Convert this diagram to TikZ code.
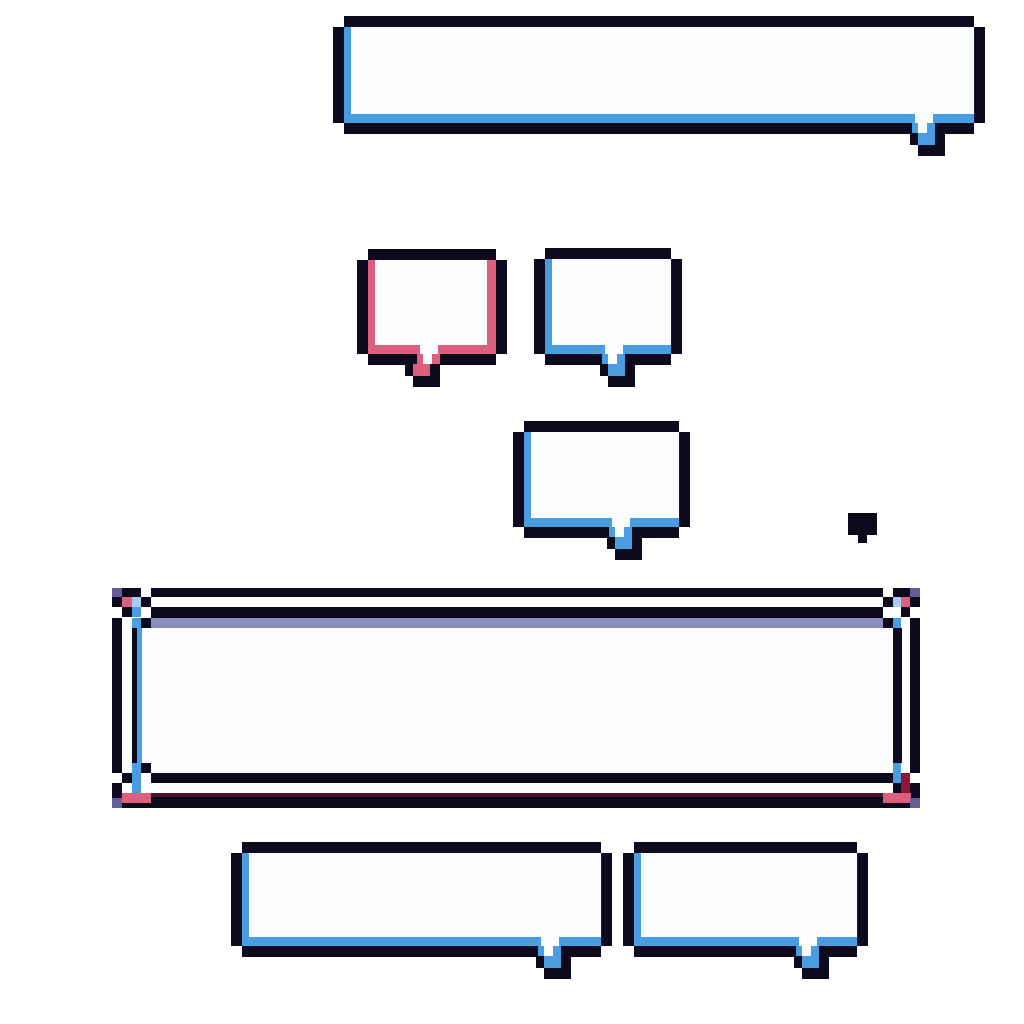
\documentclass[tikz,border=0pt]{standalone}
\usepackage{tikz}

\definecolor{darkink}{HTML}{0C0A1C}
\definecolor{blueedge}{HTML}{4A9DE0}
\definecolor{pinkedge}{HTML}{DC5F80}
\definecolor{lavender}{HTML}{8A8DC0}
\definecolor{purplecell}{HTML}{675C98}
\definecolor{lightcell}{HTML}{A8CBEE}
\definecolor{redcell}{HTML}{8C1838}
\definecolor{maroon}{HTML}{4A1530}
\definecolor{paper}{HTML}{FBFCFD}

% left, top, right, bottom, notch, tail leg, colour, right strip
\newcommand{\bubble}[8]{%
	\fill[paper] (#1+11,#2+11) rectangle (#3-11,#4-11);
	\fill[darkink] (#1+11,#2) rectangle (#3-11,#2+11);
	\fill[darkink] (#1,#2+11) rectangle (#1+11,#4-11);
	\fill[darkink] (#3-11,#2+11) rectangle (#3,#4-11);
	\fill[#7] (#1+11,#2+11) rectangle (#1+18,#4-11);
	\fill[#7] (#3-11-#8,#2+11) rectangle (#3-11,#4-11);
	\fill[#7] (#1+11,#4-20) rectangle (#3-11,#4-11);
	\fill[darkink] (#1+11,#4-11) rectangle (#5-3,#4);
	\fill[darkink] (#5+20,#4-11) rectangle (#3-11,#4);
	\fill[paper] (#5,#4-20) rectangle (#5+18,#4-11);
	\fill[#7] (#5-3,#4-11) rectangle (#5+20,#4-1);
	\fill[paper] (#5+3,#4-11) rectangle (#5+12,#4-1);
	\fill[darkink] (#6-5,#4-1) rectangle (#6+30,#4+11);
	\fill[#7] (#6+3,#4-1) rectangle (#6+20,#4+11);
	\fill[darkink] (#6+3,#4+11) rectangle (#6+30,#4+22);
}

\begin{document}
\begin{tikzpicture}[x=0.1mm,y=-0.1mm]

	\useasboundingbox (0,0) rectangle (1024,1024);
	\fill[white] (0,0) rectangle (1024,1024);

	\bubble{333}{16}{985}{134}{915}{915}{blueedge}{0}
	\bubble{357}{249}{507}{365}{420}{410}{pinkedge}{9}
	\bubble{534}{248}{682}{365}{605}{605}{blueedge}{0}
	\bubble{513}{421}{690}{538}{612}{612}{blueedge}{0}
	\bubble{231}{842}{612}{957}{541}{541}{blueedge}{0}
	\bubble{623}{842}{868}{957}{799}{799}{blueedge}{0}

	% small mark
	\fill[darkink] (848,513) rectangle (877,535);
	\fill[darkink] (858,535) rectangle (867,543);

	% frame
	\fill[paper] (142,628) rectangle (893,773);
	\fill[darkink] (151,588) rectangle (883,597);
	\fill[darkink] (151,607) rectangle (883,618);
	\fill[lavender] (151,618) rectangle (883,628);
	\fill[darkink] (151,773) rectangle (883,783);
	\fill[darkink] (112,793) rectangle (920,808);
	\fill[maroon] (151,793) rectangle (883,797);
	\fill[darkink] (112,628) rectangle (122,763);
	\fill[darkink] (132,628) rectangle (137,763);
	\fill[blueedge] (137,628) rectangle (142,763);
	\fill[darkink] (893,628) rectangle (902,763);
	\fill[darkink] (910,628) rectangle (920,763);
	\foreach \x/\y/\c in {112/588/purplecell, 122/588/darkink, 132/588/darkink, 141/588/white,
		112/597/darkink, 122/597/pinkedge, 132/597/lightcell, 141/597/darkink,
		112/607/white, 122/607/darkink, 132/607/blueedge, 141/607/white,
		112/618/darkink, 122/618/white, 132/618/blueedge, 141/618/darkink,
		883/588/white, 893/588/darkink, 901/588/darkink, 910/588/purplecell,
		883/597/darkink, 893/597/lightcell, 901/597/pinkedge, 910/597/darkink,
		883/607/white, 893/607/white, 901/607/darkink, 910/607/white,
		883/618/darkink, 893/618/blueedge, 901/618/white, 910/618/darkink,
		112/763/darkink, 122/763/white, 132/763/blueedge, 141/763/darkink,
		112/773/white, 122/773/darkink, 132/773/blueedge, 141/773/white,
		112/783/darkink, 122/783/white, 132/783/blueedge, 141/783/white,
		883/763/white, 893/763/blueedge, 901/763/white, 910/763/darkink,
		883/773/darkink, 893/773/blueedge, 901/773/redcell, 910/773/white,
		883/783/white, 893/783/darkink, 901/783/redcell, 910/783/darkink,
		122/793/pinkedge, 132/793/pinkedge, 141/793/pinkedge,
		883/793/pinkedge, 893/793/pinkedge, 901/793/pinkedge,
		112/798/purplecell, 910/798/purplecell}
		\fill[\c] (\x,\y) rectangle ++(10,10);

\end{tikzpicture}
\end{document}
